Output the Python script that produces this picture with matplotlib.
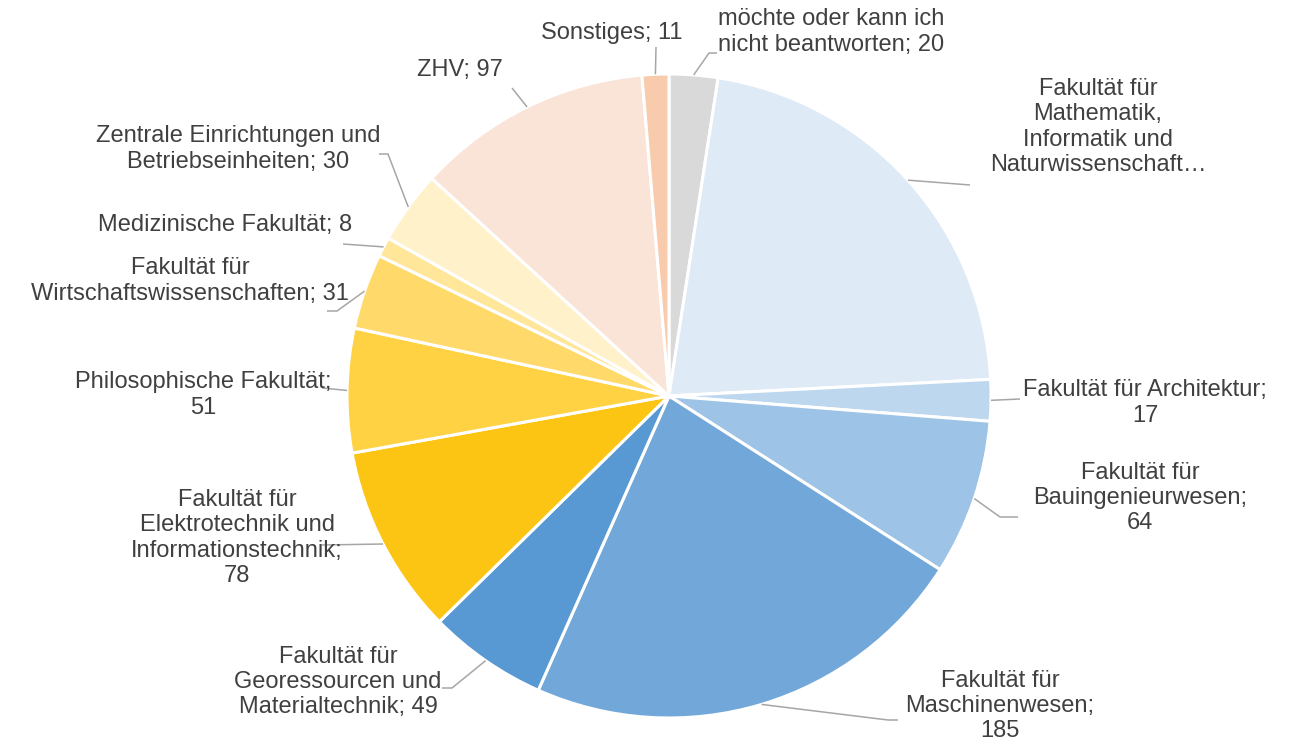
import matplotlib.pyplot as plt
import numpy as np

plt.rcParams['font.family'] = ['Liberation Sans', 'DejaVu Sans']

labels = ["möchte oder kann ich\nnicht beantworten; 20",
          "Fakultät für\nMathematik,\nInformatik und\nNaturwissenschaft…",
          "Fakultät für Architektur;\n17",
          "Fakultät für\nBauingenieurwesen;\n64",
          "Fakultät für\nMaschinenwesen;\n185",
          "Fakultät für\nGeoressourcen und\nMaterialtechnik; 49",
          "Fakultät für\nElektrotechnik und\nInformationstechnik;\n78",
          "Philosophische Fakultät;\n51",
          "Fakultät für\nWirtschaftswissenschaften; 31",
          "Medizinische Fakultät; 8",
          "Zentrale Einrichtungen und\nBetriebseinheiten; 30",
          "ZHV; 97",
          "Sonstiges; 11"]
values = [20, 178, 17, 64, 185, 49, 78, 51, 31, 8, 30, 97, 11]
colors = ["#D9D9D9", "#DEEAF6", "#BDD7EE", "#9DC3E6", "#72A8D9", "#5898D3",
          "#FDC513", "#FFD243", "#FFDA6B", "#FFE699", "#FFF1CA", "#FAE3D7", "#F8CBAD"]

# layout: label text centres and leader elbow points (pixels, y down)
text_pos = [(831, 32), (1098, 127), (1145, 403), (1140, 498), (1000, 706), (338, 682),
            (237, 538), (203, 395), (190, 281), (225, 225), (238, 149), (460, 70), (612, 33)]
elbows = [[(709, 53), (717, 53)], [(970, 185)], [(1020, 399)], [(1000, 517), (1018, 517)],
          [(888, 720), (898, 720)], [(452, 688), (442, 688)], [(322, 545)], [(322, 388)],
          [(337, 311), (327, 311)], [(343, 244)], [(388, 154), (379, 154)], [(512, 88)],
          [(656, 47)]]

W, H = 1290, 744
cx, cy, r = 669, 396, 322

fig = plt.figure(figsize=(12.9, 7.44), dpi=100)
ax = fig.add_axes([0, 0, 1, 1])

wedges, _ = ax.pie(values, colors=colors, startangle=90, counterclock=False,
                   center=(cx, H - cy), radius=r,
                   wedgeprops=dict(edgecolor='white', linewidth=2.2))
ax.set_xlim(0, W)
ax.set_ylim(0, H)
ax.set_aspect('equal')
ax.axis('off')

for w, lab, tp, elb in zip(wedges, labels, text_pos, elbows):
    ang = np.deg2rad((w.theta1 + w.theta2) / 2)
    x0 = cx + r * np.cos(ang)
    y0 = (H - cy) + r * np.sin(ang)
    xs = [x0] + [p[0] for p in elb]
    ys = [y0] + [H - p[1] for p in elb]
    ax.plot(xs, ys, color="#A6A6A6", lw=1.1, solid_capstyle='butt')
    ax.text(tp[0], H - tp[1], lab, ha='center', va='center', fontsize=17,
            color="#404040", linespacing=1.18)

fig.savefig("out.png", dpi=100)
